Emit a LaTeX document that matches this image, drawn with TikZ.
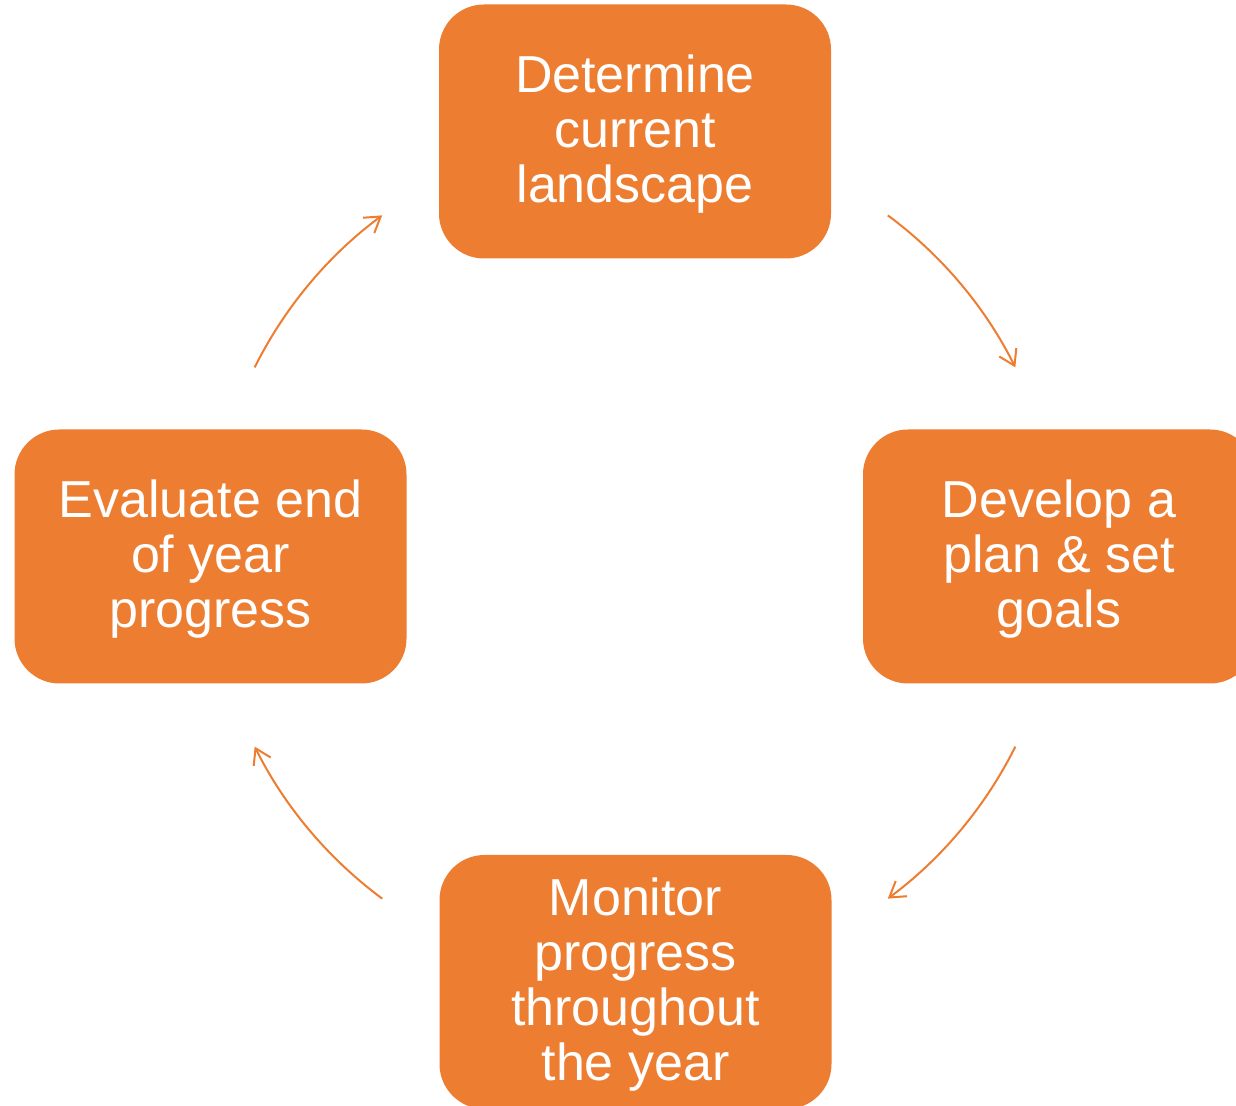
\documentclass[tikz,border=0pt]{standalone}
\usepackage{fontspec}
\setmainfont{Liberation Sans}
\usetikzlibrary{arrows.meta}
\definecolor{accent}{HTML}{ED7D31}
\begin{document}
\begin{tikzpicture}[x=1pt,y=1pt,
  stage/.style={fill=accent, draw=none, rounded corners=45pt,
    minimum width=392pt, minimum height=254pt, inner sep=0pt,
    text depth=5pt,
    text=white, align=center, font=\fontsize{52}{55}\selectfont},
  flow/.style={draw=accent, line width=2pt,
    -{Straight Barb[length=15pt,width=19pt]}}]
\clip (0,0) rectangle (1236,1105);
% the four stages of the yearly cycle
\node[stage] (determine) at (635,973.5) {Determine\\current\\landscape};
\node[stage] (develop)   at (1059,548.5) {Develop a\\plan \& set\\goals};
\node[stage] (monitor)   at (635.5,123) {Monitor\\progress\\throughout\\the year};
\node[stage] (evaluate)  at (210.5,548.5) {Evaluate end\\of year\\progress};
% centre of the ring of arrows
\coordinate (hub) at (635,548);
% clockwise arcs between the stages
\draw[flow] ([shift={(53.5:425)}]hub) arc[start angle=53.5, end angle=26.5, radius=425];
\draw[flow] ([shift={(-26.5:425)}]hub) arc[start angle=-26.5, end angle=-53.5, radius=425];
\draw[flow] ([shift={(-126.5:425)}]hub) arc[start angle=-126.5, end angle=-153.5, radius=425];
\draw[flow] ([shift={(153.5:425)}]hub) arc[start angle=153.5, end angle=126.5, radius=425];
\end{tikzpicture}
\end{document}
